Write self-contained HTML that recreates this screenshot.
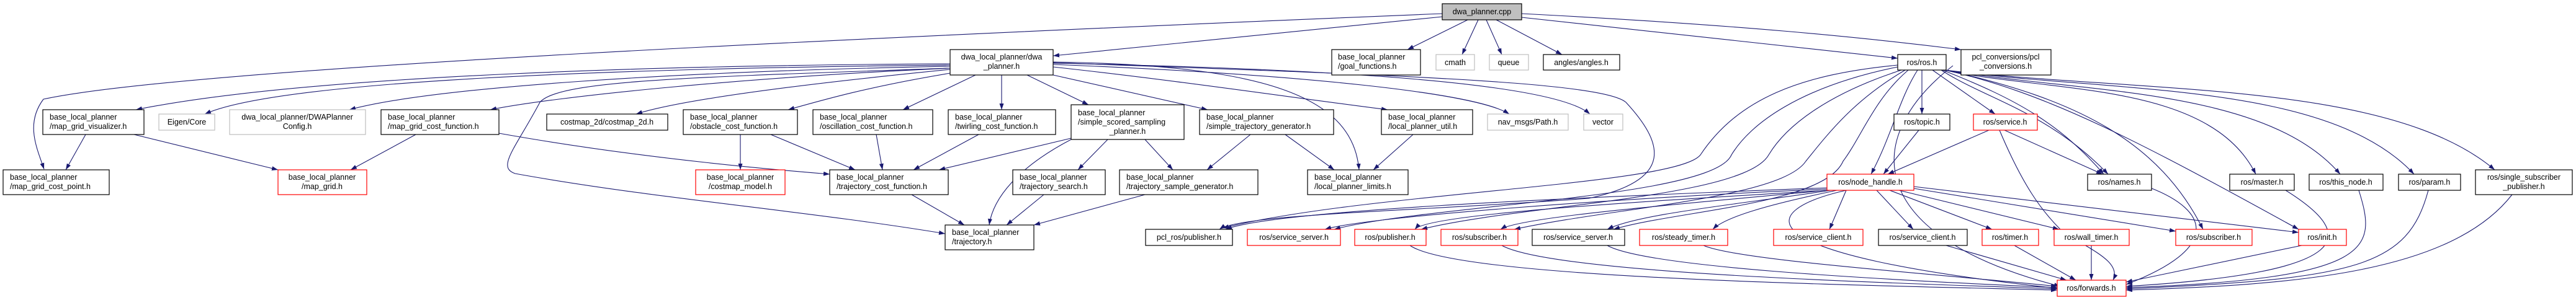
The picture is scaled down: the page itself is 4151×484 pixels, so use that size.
<!DOCTYPE html>
<html><head><meta charset="utf-8"><style>
html,body{margin:0;padding:0;background:#fff;}
svg{display:block;}
text{font-family:"Liberation Sans",sans-serif;font-size:12.5px;fill:#000;}
.e{fill:none;stroke:#191970;stroke-width:1.1;}
.b{fill:#fff;stroke:#000;stroke-width:1.2;}
.g{fill:#fff;stroke:#bfbfbf;stroke-width:1.2;}
.r{fill:#fff;stroke:#ff0000;stroke-width:1.2;}
</style></head><body>
<svg width="4151" height="484" viewBox="0 0 4151 484" xmlns="http://www.w3.org/2000/svg">
<defs><marker id="a" markerUnits="userSpaceOnUse" markerWidth="11" markerHeight="8" refX="10" refY="3.5" orient="auto"><path d="M0,0 L10,3.5 L0,7 z" fill="#191970"/></marker></defs>
<g class="e" marker-end="url(#a)">
<!-- dwa_planner.cpp -->
<path d="M2324,27 L1697,90"/>
<path d="M2324,22 C1400,60 300,110 70,160 C40,200 60,240 71,273"/>
<path d="M2365,32 L2268,80"/>
<path d="M2382,32 L2356,88"/>
<path d="M2395,32 L2420,88"/>
<path d="M2411,32 L2517,88"/>
<path d="M2452,28 L3058,94"/>
<path d="M2452,22 C2800,40 3000,60 3160,80"/>
<!-- dwa_planner.h -->
<path d="M1531,103 C1100,105 500,120 219,177"/>
<path d="M1531,105 C1000,110 450,130 330,184"/>
<path d="M1531,107 C1100,115 700,140 563,177"/>
<path d="M1531,110 C1200,125 900,155 790,177"/>
<path d="M1531,112 C1300,135 1100,160 1025,184"/>
<path d="M1531,118 C1400,140 1330,160 1270,177"/>
<path d="M1572,121 L1455,177"/>
<path d="M1614,121 L1614,177"/>
<path d="M1655,121 L1754,169"/>
<path d="M1697,121 L1946,177"/>
<path d="M1697,108 C1900,130 2100,160 2236,177"/>
<path d="M1697,104 C2100,120 2380,150 2432,184"/>
<path d="M1697,102 C2100,110 2500,130 2562,184"/>
<path d="M1697,100 C2050,105 2180,160 2190,274"/>
<path d="M1531,110 C1100,125 900,130 870,165 C830,240 800,270 830,280 C1050,320 1300,340 1523,377"/>
<path d="M1697,101 C2200,120 2580,130 2620,165 C2680,230 2700,290 2560,320 C2300,340 2000,345 1965,370"/>
<!-- second tier left -->
<path d="M138,217 L106,274"/>
<path d="M216,217 L448,274"/>
<path d="M670,217 L565,274"/>
<path d="M804,215 C1000,250 1200,270 1337,281"/>
<path d="M1193,217 L1193,274"/>
<path d="M1242,217 L1378,274"/>
<path d="M1412,217 L1422,274"/>
<path d="M1577,217 L1472,274"/>
<path d="M1726,223 L1513,274"/>
<path d="M1726,225 C1640,270 1600,320 1594,363"/>
<path d="M1785,225 L1737,274"/>
<path d="M1845,225 L1890,274"/>
<path d="M1469,314 L1554,363"/>
<path d="M1682,314 L1622,363"/>
<path d="M1845,314 L1666,363"/>
<path d="M2015,217 L1945,274"/>
<path d="M2071,217 L2150,274"/>
<path d="M2277,217 L2213,274"/>
<!-- ros.h -->
<path d="M3097,113 L3097,184"/>
<path d="M3114,113 L3215,184"/>
<path d="M3090,113 C3060,160 3048,220 3015,281"/>
<path d="M3128,113 C3200,160 3300,180 3397,281"/>
<path d="M3130,113 C3250,160 3320,200 3390,281"/>
<path d="M3134,113 C3300,150 3560,130 3635,281"/>
<path d="M3134,113 C3350,150 3650,140 3771,281"/>
<path d="M3134,113 C3400,150 3750,130 3890,281"/>
<path d="M3134,113 C3450,150 3850,130 4020,274"/>
<path d="M3134,113 C3300,150 3450,230 3704,370"/>
<path d="M3134,113 C3350,160 3480,230 3550,370"/>
<path d="M3058,105 C2900,120 2800,160 2740,250 C2700,300 2200,310 1970,368"/>
<path d="M3058,108 C2900,140 2820,200 2790,250 C2760,320 2300,330 2150,370"/>
<path d="M3064,113 C2950,150 2880,200 2850,250 C2810,320 2450,330 2290,370"/>
<path d="M3070,113 C2990,160 2950,210 2910,260 C2870,320 2600,335 2440,370"/>
<path d="M3075,113 C3020,160 3000,220 2970,260 C2940,330 2700,340 2600,370"/>
<path d="M3147,106 C3000,220 3000,380 3320,462"/>
<!-- topic, service -->
<path d="M3092,210 L3035,281"/>
<path d="M3205,210 L3042,281"/>
<path d="M3230,210 L3388,281"/>
<path d="M3222,210 C3260,300 3290,340 3320,370 C3360,400 3420,420 3405,452"/>
<!-- node_handle -->
<path d="M2975,307 L2948,370"/>
<path d="M3024,307 L3083,370"/>
<path d="M3045,307 L3210,370"/>
<path d="M3060,307 L3318,370"/>
<path d="M3084,304 L3506,373"/>
<path d="M3084,301 L3704,375"/>
<path d="M2975,307 C2830,340 2800,410 3315,465"/>
<path d="M2944,303 C2500,320 2050,340 1975,370"/>
<path d="M2944,305 C2600,320 2200,350 2135,370"/>
<path d="M2944,307 C2650,325 2300,345 2280,370"/>
<path d="M2944,307 C2700,330 2450,350 2418,370"/>
<path d="M2950,307 C2800,330 2640,345 2590,370"/>
<path d="M2960,307 C2850,330 2780,350 2760,370"/>
<!-- to forwards -->
<path d="M3465,303 C3560,340 3580,400 3426,459"/>
<path d="M3683,307 C3800,380 3800,440 3426,462"/>
<path d="M3801,307 C3830,400 3830,450 3426,464"/>
<path d="M3913,307 C3880,430 3800,450 3426,466"/>
<path d="M4048,314 C3950,440 3700,460 3426,468"/>
<path d="M3709,396 L3426,455"/>
<path d="M3246,396 L3345,452"/>
<path d="M3370,396 L3370,452"/>
<path d="M3136,396 L3330,452"/>
<path d="M2745,396 C2800,420 3100,440 3315,462"/>
<path d="M2590,396 C2650,430 3000,450 3315,464"/>
<path d="M2420,396 C2500,440 3000,455 3315,466"/>
<path d="M2272,396 C2350,450 3000,460 3315,468"/>
</g>
<!-- nodes -->
<g>
<rect x="2324" y="6" width="128" height="26" fill="#bfbfbf" stroke="#000" stroke-width="1.2"/><text x="2388" y="23" text-anchor="middle">dwa_planner.cpp</text>
<rect class="b" x="1531" y="80" width="166" height="41"/><text x="1614" y="96" text-anchor="middle">dwa_local_planner/dwa</text><text x="1614" y="111" text-anchor="middle">_planner.h</text>
<rect class="b" x="2146" y="80" width="143" height="41"/><text x="2156" y="96">base_local_planner</text><text x="2156" y="111">/goal_functions.h</text>
<rect class="g" x="2314" y="88" width="62" height="25"/><text x="2345" y="105" text-anchor="middle">cmath</text>
<rect class="g" x="2400" y="88" width="63" height="25"/><text x="2431" y="105" text-anchor="middle">queue</text>
<rect class="b" x="2487" y="88" width="123" height="25"/><text x="2548" y="105" text-anchor="middle">angles/angles.h</text>
<rect class="b" x="3058" y="88" width="78" height="25"/><text x="3097" y="105" text-anchor="middle">ros/ros.h</text>
<rect class="b" x="3160" y="80" width="145" height="41"/><text x="3232" y="96" text-anchor="middle">pcl_conversions/pcl</text><text x="3232" y="111" text-anchor="middle">_conversions.h</text>

<rect class="b" x="69" y="177" width="163" height="40"/><text x="80" y="193">base_local_planner</text><text x="80" y="208">/map_grid_visualizer.h</text>
<rect class="g" x="256" y="184" width="90" height="26"/><text x="301" y="201" text-anchor="middle">Eigen/Core</text>
<rect class="g" x="370" y="177" width="219" height="40"/><text x="479" y="193" text-anchor="middle">dwa_local_planner/DWAPlanner</text><text x="479" y="208" text-anchor="middle">Config.h</text>
<rect class="b" x="614" y="177" width="190" height="40"/><text x="625" y="193">base_local_planner</text><text x="625" y="208">/map_grid_cost_function.h</text>
<rect class="b" x="881" y="184" width="195" height="26"/><text x="978" y="201" text-anchor="middle">costmap_2d/costmap_2d.h</text>
<rect class="b" x="1101" y="177" width="184" height="40"/><text x="1112" y="193">base_local_planner</text><text x="1112" y="208">/obstacle_cost_function.h</text>
<rect class="b" x="1310" y="177" width="193" height="40"/><text x="1321" y="193">base_local_planner</text><text x="1321" y="208">/oscillation_cost_function.h</text>
<rect class="b" x="1528" y="177" width="173" height="40"/><text x="1539" y="193">base_local_planner</text><text x="1539" y="208">/twirling_cost_function.h</text>
<rect class="b" x="1726" y="169" width="182" height="56"/><text x="1737" y="186">base_local_planner</text><text x="1737" y="201">/simple_scored_sampling</text><text x="1817" y="216" text-anchor="middle">_planner.h</text>
<rect class="b" x="1933" y="177" width="216" height="40"/><text x="1944" y="193">base_local_planner</text><text x="1944" y="208">/simple_trajectory_generator.h</text>
<rect class="b" x="2226" y="177" width="147" height="40"/><text x="2237" y="193">base_local_planner</text><text x="2237" y="208">/local_planner_util.h</text>
<rect class="g" x="2397" y="184" width="130" height="26"/><text x="2462" y="201" text-anchor="middle">nav_msgs/Path.h</text>
<rect class="g" x="2552" y="184" width="63" height="26"/><text x="2583" y="201" text-anchor="middle">vector</text>
<rect class="b" x="3052" y="184" width="90" height="26"/><text x="3097" y="201" text-anchor="middle">ros/topic.h</text>
<rect class="r" x="3180" y="184" width="103" height="26"/><text x="3231" y="201" text-anchor="middle">ros/service.h</text>

<rect class="b" x="5" y="274" width="171" height="40"/><text x="16" y="290">base_local_planner</text><text x="16" y="305">/map_grid_cost_point.h</text>
<rect class="r" x="448" y="274" width="143" height="40"/><text x="519" y="290" text-anchor="middle">base_local_planner</text><text x="519" y="305" text-anchor="middle">/map_grid.h</text>
<rect class="r" x="1121" y="274" width="144" height="40"/><text x="1193" y="290" text-anchor="middle">base_local_planner</text><text x="1193" y="305" text-anchor="middle">/costmap_model.h</text>
<rect class="b" x="1337" y="274" width="191" height="40"/><text x="1348" y="290">base_local_planner</text><text x="1348" y="305">/trajectory_cost_function.h</text>
<rect class="b" x="1632" y="274" width="149" height="40"/><text x="1643" y="290">base_local_planner</text><text x="1643" y="305">/trajectory_search.h</text>
<rect class="b" x="1804" y="274" width="223" height="40"/><text x="1815" y="290">base_local_planner</text><text x="1815" y="305">/trajectory_sample_generator.h</text>
<rect class="b" x="2107" y="274" width="162" height="40"/><text x="2118" y="290">base_local_planner</text><text x="2118" y="305">/local_planner_limits.h</text>
<rect class="r" x="2944" y="281" width="140" height="26"/><text x="3014" y="298" text-anchor="middle">ros/node_handle.h</text>
<rect class="b" x="3364" y="281" width="103" height="26"/><text x="3415" y="298" text-anchor="middle">ros/names.h</text>
<rect class="b" x="3593" y="281" width="104" height="26"/><text x="3645" y="298" text-anchor="middle">ros/master.h</text>
<rect class="b" x="3721" y="281" width="119" height="26"/><text x="3780" y="298" text-anchor="middle">ros/this_node.h</text>
<rect class="b" x="3865" y="281" width="100" height="26"/><text x="3915" y="298" text-anchor="middle">ros/param.h</text>
<rect class="b" x="3989" y="274" width="156" height="40"/><text x="4067" y="290" text-anchor="middle">ros/single_subscriber</text><text x="4067" y="305" text-anchor="middle">_publisher.h</text>

<rect class="b" x="1523" y="363" width="143" height="40"/><text x="1534" y="379">base_local_planner</text><text x="1534" y="394">/trajectory.h</text>
<rect class="b" x="1846" y="370" width="140" height="26"/><text x="1916" y="387" text-anchor="middle">pcl_ros/publisher.h</text>
<rect class="r" x="2010" y="370" width="150" height="26"/><text x="2085" y="387" text-anchor="middle">ros/service_server.h</text>
<rect class="r" x="2183" y="370" width="115" height="26"/><text x="2240" y="387" text-anchor="middle">ros/publisher.h</text>
<rect class="r" x="2322" y="370" width="124" height="26"/><text x="2384" y="387" text-anchor="middle">ros/subscriber.h</text>
<rect class="b" x="2469" y="370" width="149" height="26"/><text x="2543" y="387" text-anchor="middle">ros/service_server.h</text>
<rect class="r" x="2642" y="370" width="142" height="26"/><text x="2713" y="387" text-anchor="middle">ros/steady_timer.h</text>
<rect class="r" x="2858" y="370" width="144" height="26"/><text x="2930" y="387" text-anchor="middle">ros/service_client.h</text>
<rect class="b" x="3027" y="370" width="143" height="26"/><text x="3098" y="387" text-anchor="middle">ros/service_client.h</text>
<rect class="r" x="3194" y="370" width="91" height="26"/><text x="3239" y="387" text-anchor="middle">ros/timer.h</text>
<rect class="r" x="3310" y="370" width="121" height="26"/><text x="3370" y="387" text-anchor="middle">ros/wall_timer.h</text>
<rect class="r" x="3506" y="370" width="123" height="26"/><text x="3567" y="387" text-anchor="middle">ros/subscriber.h</text>
<rect class="r" x="3704" y="370" width="77" height="26"/><text x="3742" y="387" text-anchor="middle">ros/init.h</text>
<rect class="r" x="3315" y="452" width="111" height="26"/><text x="3370" y="469" text-anchor="middle">ros/forwards.h</text>
</g>
</svg>
</body></html>
